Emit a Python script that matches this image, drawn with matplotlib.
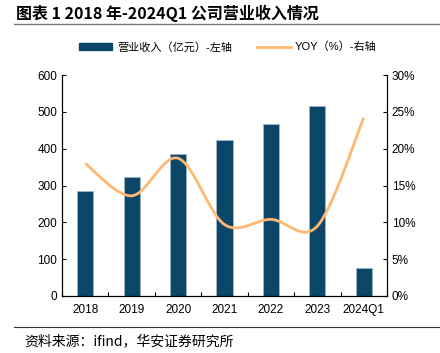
import matplotlib.pyplot as plt
import numpy as np
from matplotlib.path import Path
from matplotlib.patches import PathPatch, Patch
from matplotlib.lines import Line2D

plt.rcParams['font.family'] = ['Liberation Sans', 'Noto Sans CJK SC', 'DejaVu Sans']

categories = ['2018', '2019', '2020', '2021', '2022', '2023', '2024Q1']
revenue = [285, 323, 385, 423, 467, 516, 77]           # 亿元
yoy = [18.0, 13.6, 18.7, 9.7, 10.4, 9.5, 24.2]        # %

bar_color = '#0C4669'
line_color = '#FFB871'


def smooth_path(x, y, t=1/6):
    # 类似 Excel 平滑线：Catmull-Rom 转三次贝塞尔
    pts = np.column_stack([x, y])
    verts = [pts[0]]
    codes = [Path.MOVETO]
    n = len(pts)
    for i in range(n - 1):
        p0 = pts[max(i - 1, 0)]
        p1 = pts[i]
        p2 = pts[i + 1]
        p3 = pts[min(i + 2, n - 1)]
        c1 = p1 + (p2 - p0) * t
        c2 = p2 - (p3 - p1) * t
        verts += [c1, c2, p2]
        codes += [Path.CURVE4] * 3
    return Path(verts, codes)


fig = plt.figure(figsize=(4.4, 3.53), dpi=100)
ax = fig.add_axes([62/440, 1 - 296/353, 325/440, 221/353])
x = np.arange(len(categories))
ax.bar(x, revenue, width=0.35, color=bar_color, edgecolor='#9FB8CC', linewidth=0.6, zorder=2)
ax.set_xlim(-0.5, len(categories) - 0.5)
ax.set_ylim(0, 600)
ax.set_yticks(range(0, 601, 100))
ax.set_xticks(x)
ax.set_xticklabels(categories)
ax.set_xticks(np.arange(-0.5, len(categories)), minor=True)
ax.tick_params(axis='x', which='major', length=0, labelsize=8.5, pad=6)
ax.tick_params(axis='x', which='minor', length=3, direction='in', width=0.8)
ax.tick_params(axis='y', direction='in', length=3, labelsize=8.5, width=0.8)

ax2 = ax.twinx()
ax2.set_ylim(0, 30)
ax2.set_yticks(range(0, 31, 5))
ax2.set_yticklabels([f'{v}%' for v in range(0, 31, 5)])
ax2.tick_params(axis='y', direction='in', length=3, labelsize=8.5, width=0.8)
ax2.add_patch(PathPatch(smooth_path(x, yoy), facecolor='none', edgecolor=line_color, lw=2, zorder=3))

for a in (ax, ax2):
    a.spines['top'].set_visible(False)
    for s in ('left', 'right', 'bottom'):
        a.spines[s].set_linewidth(0.8)

handles = [Patch(facecolor=bar_color, edgecolor=bar_color),
           Line2D([0], [0], color=line_color, lw=2)]
fig.legend(handles, ['营业收入（亿元）-左轴', 'YOY（%）-右轴'], loc='center',
           bbox_to_anchor=(228/440, 1 - 47/353), ncol=2, frameon=False, fontsize=8,
           handlelength=3, handleheight=0.6, columnspacing=2.3, handletextpad=0.4)

fig.text(16/440, 1 - 13/353, '图表 1 2018 年-2024Q1 公司营业收入情况', fontsize=11.5,
         fontweight='bold', va='center', family=['Noto Sans CJK SC', 'DejaVu Sans'])
fig.add_artist(Line2D([14/440, 1], [1 - 24/353] * 2, color='#777777', lw=1))
fig.add_artist(Line2D([14/440, 1], [1 - 327/353] * 2, color='#333333', lw=0.8))
fig.text(24/440, 1 - 341/353, '资料来源：ifind，华安证券研究所', fontsize=10, va='center',
         family=['Noto Sans CJK SC', 'DejaVu Sans'])

fig.savefig('out.png', dpi=100)
